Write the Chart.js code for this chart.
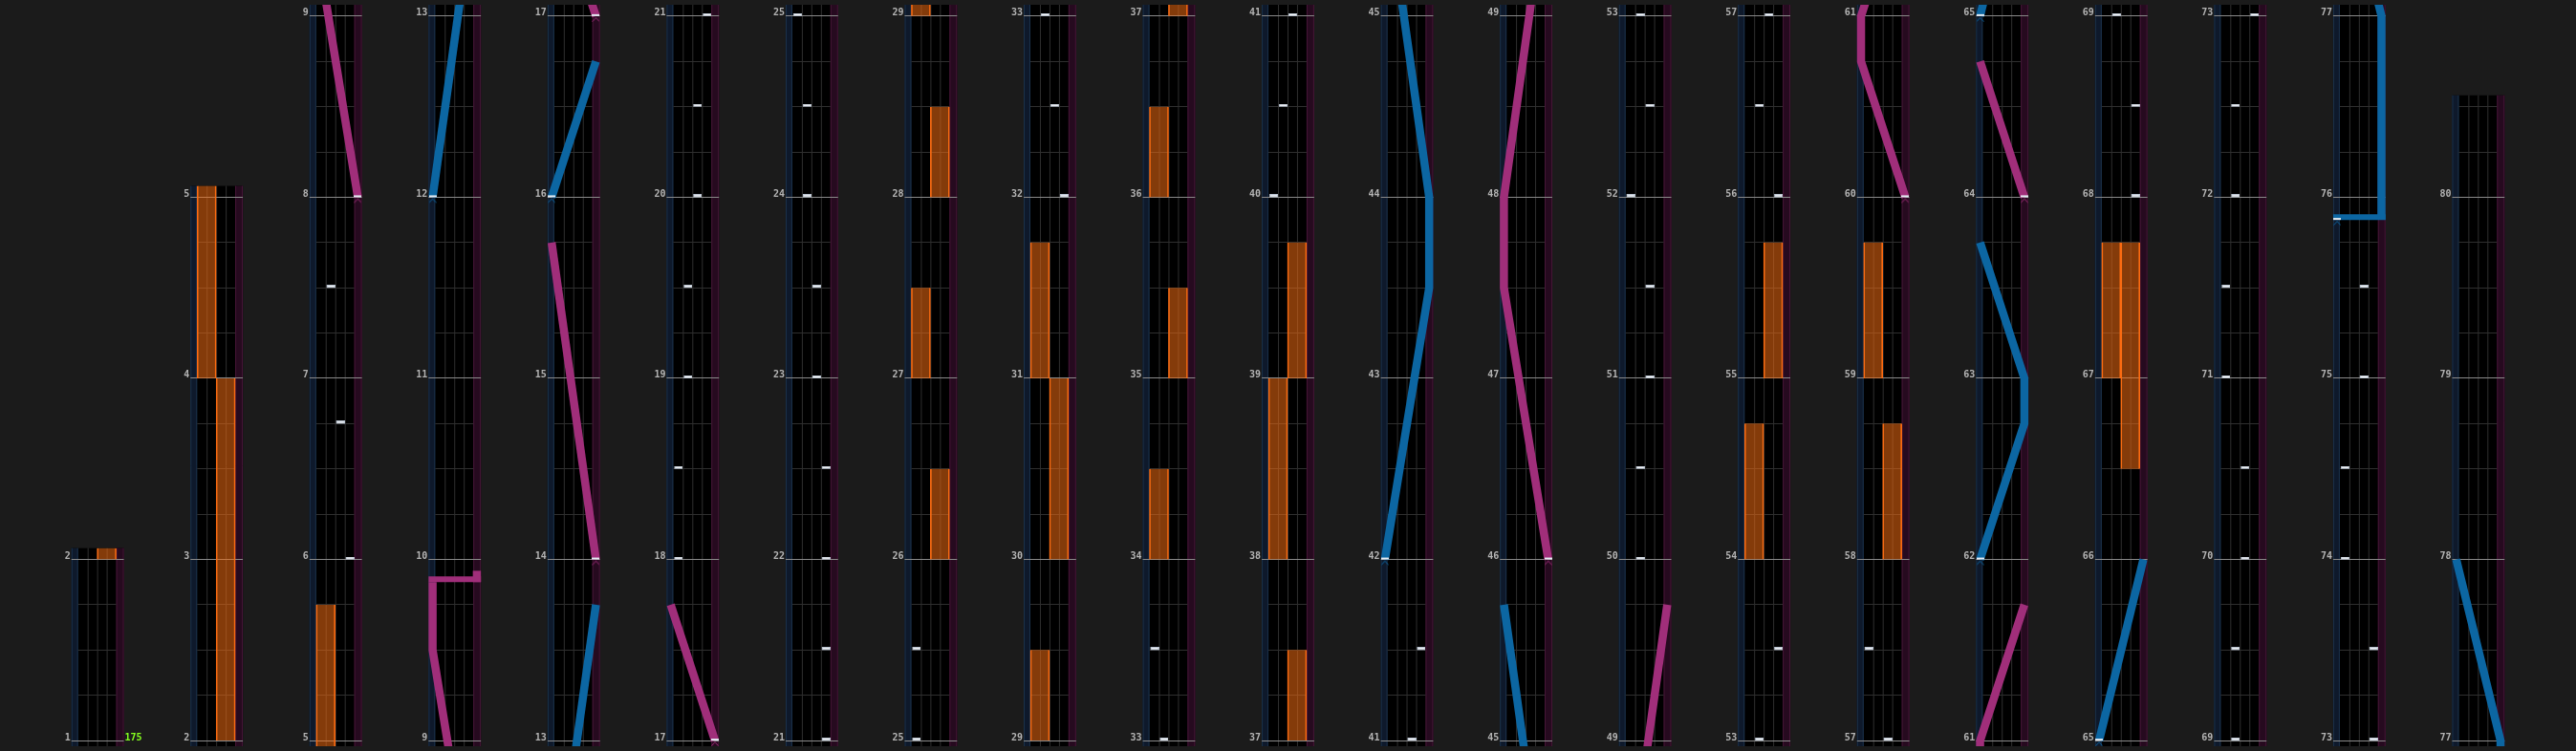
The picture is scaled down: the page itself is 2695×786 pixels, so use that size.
<!DOCTYPE html>
<html>
<head>
<meta charset="utf-8">
<title>Chart</title>
<script src="https://cdn.jsdelivr.net/npm/chart.js@4.4.1/dist/chart.umd.min.js"></script>
<style>
  html, body { margin: 0; padding: 0; background: #1b1b1b; }
  canvas { display: block; }
</style>
</head>
<body>
<canvas id="chart" width="2695" height="786"></canvas>
<script>
// Kolommen: eerste maat onderaan en waar de kolom ophoudt (in maten)
var colStart = [1, 2, 5, 9, 13, 17, 21, 25, 29, 33, 37, 41, 45, 49, 53, 57, 61, 65, 69, 73, 77];
var colEnd = [2.0625, 5.0625, 9.0625, 13.0625, 17.0625, 21.0625, 25.0625, 29.0625, 33.0625, 37.0625, 41.0625,
              45.0625, 49.0625, 53.0625, 57.0625, 61.0625, 65.0625, 69.0625, 73.0625, 77.0625, 80.5625];

// tempo bij de start
var bpmMeasure = 1;
var bpmText = '175';

// BT chips: [maat, lane 1-4]
var btNotes = [
  [6, 4], [6.75, 3], [7.5, 2],
  [18, 1], [18.5, 1], [19, 2], [19.5, 2], [20, 3], [20.5, 3], [21, 4],
  [21.5, 4], [22, 4], [22.5, 4], [23, 3], [23.5, 3], [24, 2], [24.5, 2], [25, 1], [25.5, 1],
  [32, 4], [32.5, 3], [33, 2], [33.5, 1],
  [40, 1], [40.5, 2], [41, 3], [41.5, 4],
  [50, 2], [50.5, 2], [51, 3], [51.5, 3], [52, 1], [52.5, 3], [53, 2], [53.5, 4],
  [56, 4], [56.5, 2], [57, 3], [57.5, 1],
  [68, 4], [68.5, 4], [69, 2], [69.5, 2], [70, 3], [70.5, 3], [71, 1], [71.5, 1], [72, 2], [72.5, 2],
  [73, 4], [73.5, 4], [74, 1], [74.5, 1], [75, 3], [75.5, 3]
];

// FX holds: [begin, eind, kant 0 = links 1 = rechts]
var fxHolds = [
  [2, 4, 1], [4, 5.75, 0],
  [26, 26.5, 1], [27, 27.5, 0], [28, 28.5, 1], [29, 29.5, 0], [30, 31, 1], [31, 31.75, 0],
  [34, 34.5, 0], [35, 35.5, 1], [36, 36.5, 0], [37, 37.5, 1], [38, 39, 0], [39, 39.75, 1],
  [54, 54.75, 0], [55, 55.75, 1], [58, 58.75, 1], [59, 59.75, 0],
  [66.5, 67.75, 1], [67, 67.75, 0]
];

// lasers: [maat, positie 0..1], twee keer dezelfde maat = slam
var laserLeft = [
  [[12, 0], [13.75, 1]],
  [[16, 0], [16.75, 1]],
  [[42, 0], [43.5, 1], [44, 1], [45.75, 0]],
  [[62, 0], [62.75, 1], [63, 1], [63.75, 0]],
  [[65, 0], [66, 1]],
  [[75.875, 0], [75.875, 1], [77, 1], [78, 0]]
];
var laserRight = [
  [[8, 1], [9.5, 0], [9.875, 0], [9.875, 1], [9.9375, 1]],
  [[14, 1], [15.75, 0]],
  [[17, 1], [17.75, 0]],
  [[46, 1], [47.5, 0], [48, 0], [49.75, 1]],
  [[60, 1], [60.75, 0], [61, 0], [61.75, 1]],
  [[64, 1], [64.75, 0]]
];

// opmaak (1 eenheid op x = 10px)
var COL_PITCH = 12.5;
var LANE_W = 5.5;
var BT_LEFT = 0.7;
var BT_RIGHT = 4.7;
var LASER_X = [0.425, 5.075];
var BELOW = 1 / 32;
var SLAM_LIFT = 3 / 192;
var BLUE = 'rgb(12, 102, 162)';
var PINK = 'rgb(160, 46, 122)';

function colX(k, off) { return k * COL_PITCH + off; }
function inCol(t, k) { return t >= colStart[k] - BELOW && t <= colEnd[k]; }
function laserX(k, p) { return colX(k, LASER_X[0] + (LASER_X[1] - LASER_X[0]) * p); }

// plaatjes voor de chips en het begin van een laser
function chipImage() {
  var c = document.createElement('canvas');
  c.width = 10; c.height = 6;
  var g = c.getContext('2d');
  g.fillStyle = '#b9c3d0';
  g.fillRect(1, 0, 9, 3);
  g.fillStyle = '#ffffff';
  g.fillRect(2, 1, 7, 1);
  return c;
}
function startImage(color) {
  var c = document.createElement('canvas');
  c.width = 8; c.height = 20;
  var g = c.getContext('2d');
  g.fillStyle = '#e6edf5';
  g.fillRect(0, 8, 8, 2);
  g.strokeStyle = color;
  g.lineWidth = 1;
  g.beginPath();
  g.moveTo(0.5, 15.5); g.lineTo(4, 11.5); g.lineTo(7.5, 15.5);
  g.stroke();
  return c;
}

// FX holds per kolom
var fxData = [];
fxHolds.forEach(function (h) {
  colStart.forEach(function (s, k) {
    var a = Math.max(h[0], s - BELOW), b = Math.min(h[1], colEnd[k]);
    if (b > a) fxData.push({ x: colX(k, BT_LEFT + 1 + 2 * h[2]), y: [a - s, b - s] });
  });
});

// chips per kolom
var chipData = [];
btNotes.forEach(function (n) {
  colStart.forEach(function (s, k) {
    if (inCol(n[0], k)) chipData.push({ x: colX(k, BT_LEFT + n[1] - 0.5), y: n[0] - s });
  });
});

var datasets = [];

function addLasers(list, color) {
  var starts = [];
  list.forEach(function (pts) {
    // opsplitsen in stukken en slams
    var runs = [], slams = [], cur = [pts[0]];
    for (var i = 1; i < pts.length; i++) {
      if (pts[i][0] === pts[i - 1][0]) {
        slams.push([pts[i][0], pts[i - 1][1], pts[i][1]]);
        runs.push(cur);
        cur = [pts[i]];
      } else {
        cur.push(pts[i]);
      }
    }
    runs.push(cur);
    var t0 = pts[0][0], t1 = pts[pts.length - 1][0];
    colStart.forEach(function (s, k) {
      if (t1 < s - BELOW || t0 > colEnd[k]) return;
      runs.forEach(function (run) {
        if (run.length < 2) return;
        datasets.push({
          type: 'line', order: 2,
          data: run.map(function (p) { return { x: laserX(k, p[1]), y: p[0] - s }; }),
          borderColor: color, borderWidth: 8.5, pointRadius: 0, tension: 0,
          borderJoinStyle: 'miter', borderCapStyle: 'butt', fill: false
        });
      });
      slams.forEach(function (sl) {
        datasets.push({
          type: 'line', order: 2,
          data: [{ x: colX(k, sl[1] * LANE_W), y: sl[0] - s + SLAM_LIFT },
                 { x: colX(k, sl[2] * LANE_W), y: sl[0] - s + SLAM_LIFT }],
          borderColor: color, borderWidth: 6, pointRadius: 0, tension: 0,
          borderCapStyle: 'butt', fill: false
        });
      });
      if (inCol(t0, k)) starts.push({ x: laserX(k, pts[0][1]), y: t0 - s });
    });
  });
  datasets.push({
    type: 'line', order: 0, showLine: false,
    data: starts, pointStyle: startImage(color), pointRadius: 4
  });
}

addLasers(laserLeft, BLUE);
addLasers(laserRight, PINK);

datasets.push({
  type: 'line', order: 1, showLine: false,
  data: chipData, pointStyle: chipImage(), pointRadius: 4
});

datasets.push({
  type: 'bar', order: 3,
  data: fxData,
  grouped: false,
  barThickness: 20,
  backgroundColor: 'rgba(240, 108, 18, 0.55)',
  borderColor: '#ff6c12',
  borderWidth: { left: 1, right: 1, top: 0, bottom: 0 },
  borderSkipped: false
});

// achtergrond van de kolommen, lanes, maatlijnen en nummers
var trackPlugin = {
  id: 'track',
  beforeDatasetsDraw: function (chart) {
    var ctx = chart.ctx, x = chart.scales.x, y = chart.scales.y;
    var bottom = chart.chartArea.bottom;
    ctx.save();
    colStart.forEach(function (s, k) {
      var px = function (off) { return x.getPixelForValue(colX(k, off)); };
      var py = function (t) { return y.getPixelForValue(t - s); };
      var top = py(colEnd[k]);
      var L = px(0), R = px(LANE_W), bl = px(BT_LEFT), br = px(BT_RIGHT);
      var h = bottom - top;

      ctx.fillStyle = '#000';
      ctx.fillRect(L, top, R - L, h);
      ctx.fillStyle = '#0e192b';
      ctx.fillRect(L, top, bl - L, h);
      ctx.fillStyle = '#260a1f';
      ctx.fillRect(br, top, R - br, h);

      function vline(xx, color) {
        ctx.strokeStyle = color;
        ctx.lineWidth = 1;
        ctx.beginPath();
        ctx.moveTo(xx, top); ctx.lineTo(xx, bottom);
        ctx.stroke();
      }
      function hline(yy, x0, x1, color) {
        ctx.strokeStyle = color;
        ctx.lineWidth = 1;
        ctx.beginPath();
        ctx.moveTo(x0, yy); ctx.lineTo(x1, yy);
        ctx.stroke();
      }
      vline(L + 0.5, '#1b324b');
      vline(bl - 0.5, '#1b324b');
      vline(br + 0.5, '#461637');
      vline(R - 0.5, '#461637');
      for (var i = 1; i < 4; i++) vline(px(BT_LEFT + i) + 0.5, '#2f2f2f');

      // beat lijnen
      var q0 = Math.ceil((s - BELOW) * 4), q1 = Math.floor(colEnd[k] * 4);
      for (var q = q0; q <= q1; q++) {
        if (q % 4 === 0) continue;
        hline(Math.floor(py(q / 4)) + 0.5, bl, br, '#2f2f2f');
      }
      // maatlijnen en nummers
      ctx.font = 'bold 10px "DejaVu Sans Mono"';
      ctx.textAlign = 'right';
      ctx.textBaseline = 'alphabetic';
      for (var m = Math.ceil(s); m <= colEnd[k]; m++) {
        var yy = Math.floor(py(m));
        hline(yy + 0.5, L, R, '#8a8a8a');
        ctx.fillStyle = '#b4b4b4';
        ctx.fillText(String(m), L - 1, yy);
      }
      if (inCol(bpmMeasure, k)) {
        ctx.fillStyle = '#86ff1e';
        ctx.textAlign = 'left';
        ctx.fillText(bpmText, R + 1, Math.floor(py(bpmMeasure)));
      }
    });
    ctx.restore();
  }
};

var ctx = document.getElementById('chart').getContext('2d');
var chart = new Chart(ctx, {
  type: 'line',
  data: { datasets: datasets },
  options: {
    responsive: false,
    animation: false,
    devicePixelRatio: 1,
    events: [],
    layout: { padding: 0 },
    plugins: { legend: { display: false }, tooltip: { enabled: false } },
    scales: {
      x: { type: 'linear', display: false, min: -7, max: 262.5, offset: false },
      y: { type: 'linear', display: false, min: -BELOW, max: 4.0625 }
    }
  },
  plugins: [trackPlugin]
});
</script>
</body>
</html>
